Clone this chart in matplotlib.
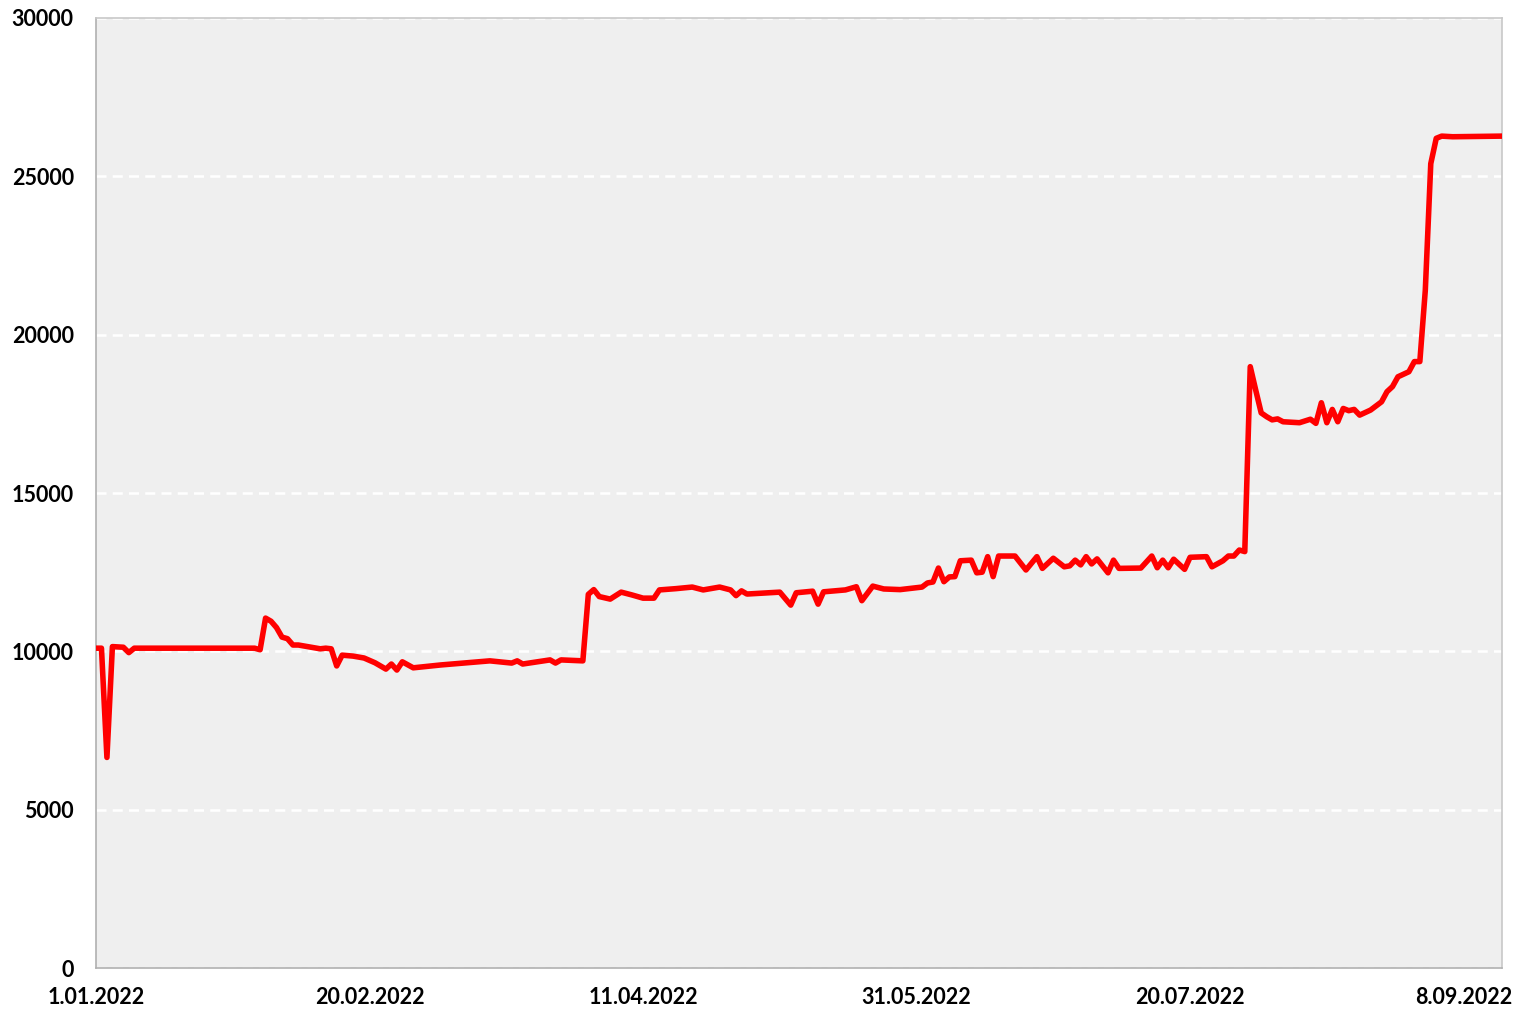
import numpy as np
import pandas as pd
import matplotlib
matplotlib.use("Agg")
import matplotlib.pyplot as plt

# дни от 1.01.2022 и значения
days = [0, 1, 2, 3, 5, 6, 7, 29, 30, 31, 32, 33, 34, 35, 36, 37, 41, 42, 43,
        44, 45, 47, 49, 51, 53, 54, 55, 56, 58, 63, 72, 76, 77, 78, 83, 84, 85,
        89, 90, 91, 92, 94, 96, 98, 100, 102, 103, 106, 109, 111, 114, 116, 117,
        118, 119, 125, 127, 128, 131, 132, 133, 137, 139, 140, 142, 144, 147,
        151, 152, 153, 154, 155, 156, 157, 158, 160, 161, 162, 163, 164, 165,
        168, 170, 172, 173, 175, 177, 178, 179, 180, 181, 182, 183, 185, 186,
        187, 191, 193, 194, 195, 196, 197, 199, 200, 203, 204, 206, 207, 208,
        209, 210, 211, 212, 213, 214, 215, 216, 217, 220, 222, 223, 224, 225,
        226, 227, 228, 229, 230, 231, 233, 235, 236, 237, 238, 240, 241, 242,
        243, 244, 245, 246, 248, 257]
values = [10100, 10100, 6650, 10150, 10130, 9960, 10100, 10100, 10050, 11050,
          10950, 10750, 10450, 10400, 10200, 10200, 10080, 10100, 10080,
          9540, 9880, 9850, 9790, 9640, 9440, 9600, 9410, 9670, 9480, 9570,
          9700, 9630, 9700, 9600, 9730, 9630, 9730,
          9700, 11800, 11950, 11730, 11650, 11870, 11780, 11680, 11680, 11940,
          11980, 12030, 11940, 12030, 11940, 11760,
          11910, 11810, 11870, 11460, 11850, 11900, 11490, 11880, 11940, 12040,
          11600, 12060, 11970, 11950,
          12030, 12160, 12190, 12630, 12200, 12350, 12360, 12860, 12880, 12480,
          12500, 12990, 12360, 13010,
          13010, 12570, 12990, 12620, 12940, 12670, 12700, 12880, 12730, 12990,
          12760, 12920, 12480, 12880,
          12620, 12630, 13010, 12640, 12880, 12640, 12910, 12590, 12970, 12990,
          12670, 12860, 13010, 13010,
          13200, 13150, 18990, 18250, 17530, 17410, 17310, 17340, 17250, 17220,
          17330, 17200, 17850, 17220,
          17640, 17250, 17670, 17600, 17640, 17460, 17620, 17880, 18200, 18360,
          18670, 18830, 19150, 19150,
          21400, 25400, 26200, 26270, 26250, 26270]

start = pd.Timestamp("2022-01-01")
dates = [start + pd.Timedelta(days=d) for d in days]
tick_dates = pd.date_range("2022-01-01", periods=6, freq="50D")
y_ticks = [0, 5000, 10000, 15000, 20000, 25000, 30000]

plt.rcParams['font.family'] = ['Lato', 'DejaVu Sans']

fig = plt.figure(figsize=(15.14, 10.11), dpi=100)
ax = fig.add_axes([0.0634, 0.0425, 0.9286, 0.9397])
ax.set_facecolor("#efefef")

ax.plot(dates, values, color="#ff0000", linewidth=4.0,
        solid_joinstyle="round", solid_capstyle="round", zorder=3)

ax.set_xlim(start, start + pd.Timedelta(days=257))
ax.set_ylim(0, 30000)
ax.set_yticks(y_ticks)
ax.set_xticks(tick_dates)
ax.set_xticklabels([f"{d.day}.{d.month:02d}.{d.year}" for d in tick_dates])

ax.grid(axis='y', color="white", linestyle=(0, (4, 2.5)), linewidth=1.8)
ax.grid(axis='x', visible=False)
ax.set_axisbelow(True)

for s in ax.spines.values():
    s.set_color("#c8c8c8")
    s.set_linewidth(1.2)
ax.spines['left'].set_color("#b0b0b0")
ax.spines['bottom'].set_color("#b0b0b0")

ax.tick_params(axis='both', length=0, labelsize=15.5)
ax.tick_params(axis='y', pad=16)
ax.tick_params(axis='x', pad=14)
for lab in ax.get_xticklabels() + ax.get_yticklabels():
    lab.set_fontweight("bold")

fig.savefig("out.png", dpi=100)
